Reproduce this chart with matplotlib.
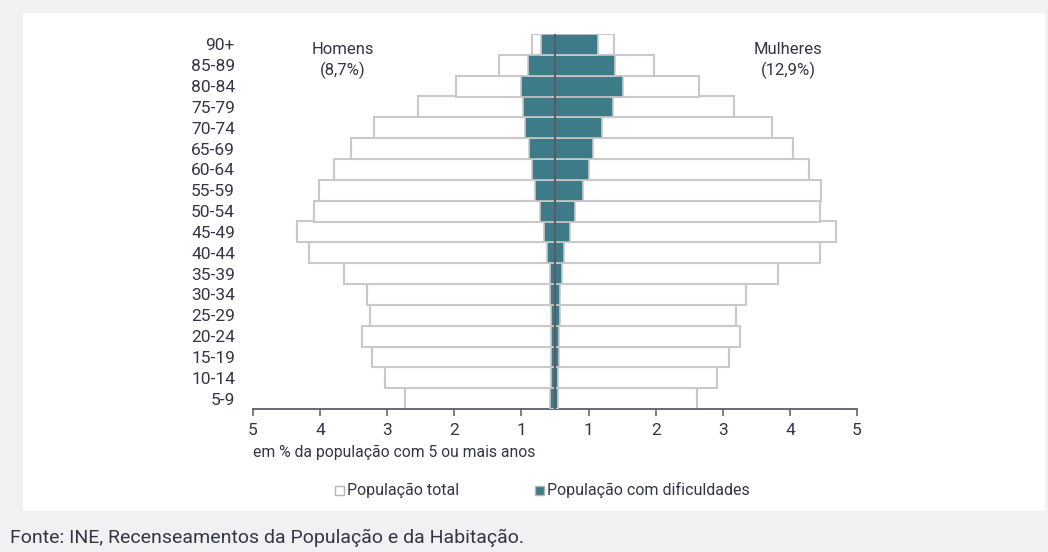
import matplotlib
matplotlib.use("Agg")
import matplotlib.pyplot as plt
from matplotlib.patches import Rectangle
import numpy as np

plt.rcParams['font.family'] = ['Roboto', 'DejaVu Sans']

ages = ["5-9", "10-14", "15-19", "20-24", "25-29", "30-34", "35-39", "40-44", "45-49",
        "50-54", "55-59", "60-64", "65-69", "70-74", "75-79", "80-84", "85-89", "90+"]
# values in %
men_total = [2.73, 3.03, 3.22, 3.37, 3.25, 3.30, 3.65, 4.17, 4.34,
             4.09, 4.01, 3.80, 3.54, 3.19, 2.54, 1.97, 1.34, 0.85]
women_total = [2.62, 2.91, 3.09, 3.26, 3.20, 3.34, 3.83, 4.45, 4.68,
               4.45, 4.47, 4.29, 4.04, 3.74, 3.17, 2.65, 1.98, 1.38]
men_diff = [0.57, 0.56, 0.56, 0.56, 0.56, 0.57, 0.58, 0.62, 0.67,
            0.72, 0.80, 0.85, 0.89, 0.94, 0.98, 1.01, 0.90, 0.71]
women_diff = [0.55, 0.55, 0.56, 0.56, 0.57, 0.57, 0.60, 0.64, 0.72,
              0.80, 0.91, 1.00, 1.06, 1.20, 1.37, 1.51, 1.39, 1.14]
tick_vals = [5, 4, 3, 2, 1, 1, 2, 3, 4, 5]
OFFSET = 0.5  # axis starts at 0.5 on each side of the centre

TEAL = "#3e7b88"
EDGE = "#c9c9c9"
TXT = "#333745"
AX = "#666873"

fig = plt.figure(figsize=(10.48, 5.52), dpi=100)
fig.patch.set_facecolor("#f1f1f3")
fig.patches.append(Rectangle((23/1048, 1-511/552), (1045-23)/1048, (511-13)/552,
                             transform=fig.transFigure, facecolor="white",
                             edgecolor="none", zorder=-5))

ax = fig.add_axes([253/1048, 1-409/552, (857-253)/1048, (409-34)/552])
ax.set_facecolor("none")
ax.set_zorder(2)

y = np.arange(len(ages))
mt = -(np.array(men_total) - OFFSET)
wt = np.array(women_total) - OFFSET
md = -(np.array(men_diff) - OFFSET)
wd = np.array(women_diff) - OFFSET

ax.barh(y, mt, height=1.0, color="white", edgecolor=EDGE, linewidth=1.5, zorder=2)
ax.barh(y, wt, height=1.0, color="white", edgecolor=EDGE, linewidth=1.5, zorder=2)
ax.barh(y, md, height=1.0, color=TEAL, edgecolor=EDGE, linewidth=1.2, zorder=3)
ax.barh(y, wd, height=1.0, color=TEAL, edgecolor=EDGE, linewidth=1.2, zorder=3)
ax.axvline(0, color="#4f505c", linewidth=1.3, zorder=4)

ax.set_xlim(-4.5, 4.5)
ax.set_ylim(-0.5, len(ages) - 0.5)

xt = [-(v - OFFSET) for v in tick_vals[:5]] + [(v - OFFSET) for v in tick_vals[5:]]
ax.set_xticks(xt)
ax.set_xticklabels([str(v) for v in tick_vals])
ax.set_yticks(y)
ax.set_yticklabels(ages)
ax.tick_params(axis='x', direction='out', length=5, width=1.2, color=AX,
               labelsize=12.5, labelcolor=TXT, pad=5)
ax.tick_params(axis='y', length=0, labelsize=12.5, labelcolor=TXT, pad=13)
for s in ["top", "right", "left"]:
    ax.spines[s].set_visible(False)
ax.spines["bottom"].set_color(AX)
ax.spines["bottom"].set_linewidth(1.4)

fig.text(343/1048, 1-50/552, "Homens", ha="center", va="center", fontsize=12, color=TXT)
fig.text(343/1048, 1-70/552, "(8,7%)", ha="center", va="center", fontsize=12, color=TXT)
fig.text(788/1048, 1-50/552, "Mulheres", ha="center", va="center", fontsize=12, color=TXT)
fig.text(788/1048, 1-70/552, "(12,9%)", ha="center", va="center", fontsize=12, color=TXT)
fig.text(253/1048, 1-452/552, "em % da população com 5 ou mais anos", ha="left",
         va="center", fontsize=11.3, color=TXT)

# legend
fig.patches.append(Rectangle((335/1048, 1-495/552), 9/1048, 9/552, transform=fig.transFigure,
                             facecolor="white", edgecolor="#b5b5b5", linewidth=1.0))
fig.text(347/1048, 1-490/552, "População total", ha="left", va="center",
         fontsize=11.5, color=TXT)
fig.patches.append(Rectangle((535/1048, 1-495/552), 9/1048, 9/552, transform=fig.transFigure,
                             facecolor=TEAL, edgecolor="#b5b5b5", linewidth=1.0))
fig.text(547/1048, 1-490/552, "População com dificuldades", ha="left", va="center",
         fontsize=11.5, color=TXT)

fig.text(10/1048, 1-538/552, "Fonte: INE, Recenseamentos da População e da Habitação.",
         ha="left", va="center", fontsize=14, color=TXT)

fig.savefig("out.png", dpi=100, facecolor=fig.get_facecolor())
